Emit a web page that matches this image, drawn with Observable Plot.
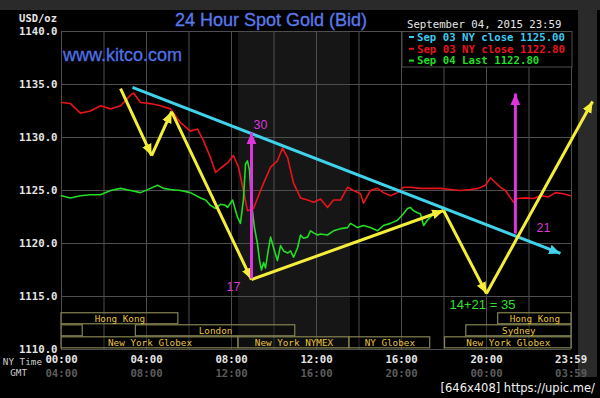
<!DOCTYPE html>
<html><head><meta charset="utf-8">
<script src="https://cdn.jsdelivr.net/npm/d3@7"></script>
<script src="https://cdn.jsdelivr.net/npm/@observablehq/plot@0.6"></script>
<style>
html,body{margin:0;padding:0;background:#000;}
#chart{width:600px;height:398px;overflow:hidden;position:relative;}
</style></head><body><div id="chart"></div>
<script>
// ---- data (hours NY time, USD/oz) ----
const redHours = [0,0.42,0.89,1.36,1.84,2.31,2.78,3.25,3.39,3.72,4.19,4.66,5.13,5.6,6.07,6.4,6.68,7.01,7.25,7.48,7.81,8.09,8.33,8.56,8.75,9.04,9.27,9.51,9.84,10.16,10.4,10.64,10.92,11.25,11.58,11.86,12.19,12.52,12.8,13.13,13.46,13.74,14.07,14.21,14.54,14.87,15.15,15.48,15.81,16.09,16.42,16.89,17.36,17.84,18.31,18.78,19.25,19.62,19.95,20.19,20.42,20.66,20.89,21.13,21.27,21.46,21.84,22.21,22.54,22.92,23.25,23.62,23.95];
const redPrices = [1133.3,1133.2,1132.3,1132.5,1133.0,1132.7,1133.0,1134.0,1134.2,1133.3,1133.2,1133.0,1132.7,1131.4,1130.6,1130.8,1129.7,1128.1,1126.7,1127.1,1127.6,1128.3,1127.2,1125.0,1123.1,1123.3,1124.5,1125.7,1127.2,1127.8,1129.0,1128.1,1125.7,1124.3,1124.1,1123.9,1124.2,1123.4,1124.1,1124.1,1125.3,1125.0,1124.7,1123.8,1125.0,1125.2,1124.8,1124.5,1124.8,1125.3,1125.3,1125.2,1125.2,1125.2,1125.1,1125.0,1125.1,1125.2,1125.5,1126.2,1125.75,1125.3,1125.0,1124.3,1123.9,1124.25,1124.3,1124.25,1124.5,1124.4,1124.8,1124.7,1124.5];
const greenHours = [0,0.42,0.89,1.36,1.84,2.31,2.78,3.25,3.72,4.19,4.52,4.8,5.13,5.6,6.07,6.54,6.78,7.01,7.25,7.48,7.72,7.81,8.05,8.28,8.42,8.56,8.66,8.75,8.85,8.94,9.08,9.22,9.32,9.41,9.51,9.6,9.74,9.84,9.98,10.16,10.31,10.45,10.64,10.78,10.92,11.11,11.25,11.39,11.58,11.72,11.86,12.05,12.19,12.52,12.8,13.13,13.46,13.6,13.93,14.21,14.54,14.87,15.15,15.48,15.81,16.09,16.28,16.42,16.56,16.75,16.89,17.04,17.22,17.51];
const greenPrices = [1124.5,1124.3,1124.5,1124.6,1124.6,1125.0,1125.2,1125.0,1124.8,1125.2,1125.5,1125.2,1125.1,1125.0,1124.8,1124.3,1124.1,1123.6,1123.3,1123.7,1123.6,1123.4,1124.1,1122.5,1121.9,1124.1,1127.5,1127.8,1126.9,1123.8,1121.5,1120.0,1118.4,1117.5,1118.2,1117.7,1119.5,1120.6,1119.6,1118.4,1119.8,1119.3,1119.1,1119.3,1118.7,1119.6,1120.8,1120.5,1120.6,1121.2,1121.0,1120.8,1120.9,1120.8,1121.2,1121.4,1121.5,1121.9,1121.5,1121.7,1121.5,1121.2,1121.7,1121.9,1122.2,1122.8,1123.3,1123.4,1123.1,1122.9,1122.8,1121.7,1122.2,1122.8];

const yTicks = [1110,1115,1120,1125,1130,1135,1140];
const gridHours = [0,2,4,6,8,10,12,14,16,18,20,22,24];
const xTicks = [0,4,8,12,16,20,23.983];
const nyLabels = ["00:00","04:00","08:00","12:00","16:00","20:00","23:59"];
const gmtLabels = ["04:00","08:00","12:00","16:00","20:00","00:00","03:59"];

const sessionNames = ["Hong Kong","","London","New York Globex","New York NYMEX","NY Globex","New York Globex","Sydney","Hong Kong"];
const sessionStart = [0,0,3.5,0,8.33,13.55,18.05,19.05,20.55];
const sessionEnd   = [5.5,1.0,11.0,8.33,13.55,17.35,24,24,24];
const sessionRow   = [0,1,1,2,2,2,2,1,0];

const nyShadeStart = [8.33];
const nyShadeEnd = [13.6];

const legendLabels = ["Sep 03 NY close 1125.00","Sep 03 NY close 1122.80","Sep 04 Last 1122.80"];
const legendColors = ["#3fc8f0","#e8141a","#22dd22"];

const yellowHours  = [2.78,4.24,5.18,8.94,17.98,20.0,24.99];
const yellowPrices = [1134.62,1128.3,1132.45,1116.6,1123.11,1115.28,1133.4];
const cyanHours  = [3.34,23.48];
const cyanPrices = [1134.72,1119.06];
const magentaHours = [8.94,21.36];
const magentaFrom  = [1116.7,1120.94];
const magentaTo    = [1130.47,1134.15];
const noteTexts  = ["30","17","21","14+21 = 35"];
const noteHours  = [9.36,8.09,22.68,19.81];
const notePrices = [1131.2,1115.85,1121.42,1114.25];
const noteColors = ["#d63ad6","#d63ad6","#d63ad6","#2ee02e"];

// ---- build tables ----
const red = redHours.map((h,i)=>({h, p: redPrices[i]}));
const green = greenHours.map((h,i)=>({h, p: greenPrices[i]}));
const yellowSegs = yellowHours.slice(1).map((h,i)=>({x1: yellowHours[i], y1: yellowPrices[i], x2: h, y2: yellowPrices[i+1]}));
const cyanSegs = [{x1: cyanHours[0], y1: cyanPrices[0], x2: cyanHours[1], y2: cyanPrices[1]}];
const magentaSegs = magentaHours.map((h,i)=>({x1:h, y1: magentaFrom[i], x2:h, y2: magentaTo[i]}));
const notes = noteTexts.map((t,i)=>({t, h: noteHours[i], p: notePrices[i], c: noteColors[i]}));
const rowTop = r => 1113.42 - r*1.135;
const sessions = sessionNames.map((n,i)=>({n, a: sessionStart[i], b: sessionEnd[i], top: rowTop(sessionRow[i]), bot: rowTop(sessionRow[i]) - 1.04}));
const shade = nyShadeStart.map((a,i)=>({a, b: nyShadeEnd[i]}));

function headMarker(color, context) {
  const doc = (context && context.document) || document;
  const m = doc.createElementNS("http://www.w3.org/2000/svg","marker");
  m.setAttribute("viewBox","-10 -5 10 10");
  m.setAttribute("markerWidth","3.8");
  m.setAttribute("markerHeight","3.8");
  m.setAttribute("orient","auto");
  m.setAttribute("fill", color);
  m.setAttribute("stroke","none");
  const p = doc.createElementNS("http://www.w3.org/2000/svg","path");
  p.setAttribute("d","M-10,-4.3L0,0L-10,4.3Z");
  m.appendChild(p);
  return m;
}

const mono = "DejaVu Sans Mono";
const plot = Plot.plot({
  width: 600, height: 398,
  marginLeft: 61, marginRight: 29, marginTop: 31, marginBottom: 49,
  x: {domain: [0,24], axis: null},
  y: {domain: [1110,1140], axis: null},
  style: {background: "#000", color: "#ddd", fontFamily: mono, fontSize: "10.7px", overflow: "visible"},
  marks: [
    Plot.rect(shade, {x1: "a", x2: "b", y1: 1110, y2: 1140, fill: "#161616"}),
    Plot.gridX({ticks: gridHours, stroke: "#4e4e4e", strokeOpacity: 1}),
    Plot.gridY({ticks: yTicks, stroke: "#4e4e4e", strokeOpacity: 1}),
    Plot.axisY({ticks: yTicks, tickFormat: d => d.toFixed(1), tickSize: 0, tickPadding: 4, fill: "#e6e6e6", fontWeight: "bold", fontSize: 10.7, label: null}),
    Plot.axisX({ticks: xTicks, tickFormat: (d,i) => nyLabels[i], tickSize: 0, tickPadding: 6, fill: "#e6e6e6", fontWeight: "bold", fontSize: 10.7, label: null}),
    Plot.axisX({ticks: xTicks, tickFormat: (d,i) => gmtLabels[i], tickSize: 0, tickPadding: 20, fill: "#5c5c5c", fontWeight: "bold", fontSize: 10.7, label: null}),
    Plot.rect(sessions, {x1: "a", x2: "b", y1: "bot", y2: "top", fill: "#000", fillOpacity: 0.35, stroke: "#858350", strokeWidth: 1.2}),
    Plot.text(sessions, {x: d => (d.a + d.b)/2, y: d => (d.top + d.bot)/2, text: "n", fill: "#e6c23c", fontSize: 9.3, fontFamily: mono}),
    Plot.line(red, {x: "h", y: "p", stroke: "#e8141a", strokeWidth: 1.6}),
    Plot.line(green, {x: "h", y: "p", stroke: "#22dd22", strokeWidth: 1.6}),
    Plot.link(cyanSegs, {x1: "x1", y1: "y1", x2: "x2", y2: "y2", stroke: "#3fd2ea", strokeWidth: 3, markerEnd: headMarker}),
    Plot.link(yellowSegs, {x1: "x1", y1: "y1", x2: "x2", y2: "y2", stroke: "#f4ee3a", strokeWidth: 3, markerEnd: headMarker}),
    Plot.link(magentaSegs, {x1: "x1", y1: "y1", x2: "x2", y2: "y2", stroke: "#de34de", strokeWidth: 3, markerEnd: headMarker}),
    Plot.text(notes, {x: "h", y: "p", text: "t", fill: "c", fontSize: d => d.t.length > 3 ? 13 : 12.5, fontWeight: d => d.t.length > 3 ? "normal" : "bold", fontFamily: "Liberation Sans"})
  ]
});

const svg = d3.select(plot);
// frame bands, behind all marks
const bg = svg.insert("g", ":first-child");
bg.append("rect").attr("x",0).attr("y",0).attr("width",600).attr("height",398).attr("fill","#000");
bg.append("rect").attr("x",0).attr("y",0).attr("width",600).attr("height",10).attr("fill","#2a2a2a");
bg.append("rect").attr("x",578).attr("y",10).attr("width",19).attr("height",367).attr("fill","#2a2a2a");

const txt = (x, y, s) => svg.append("text").attr("x", x).attr("y", y).attr("text-anchor", "start").text(s);
// title etc.
txt(175, 26, "24 Hour Spot Gold (Bid)").attr("font-family","Liberation Sans").attr("font-size",18).attr("fill","#5a78e8").attr("stroke","#5a78e8").attr("stroke-width",0.35);
txt(63, 61, "www.kitco.com").attr("font-family","Liberation Sans").attr("font-size",18).attr("fill","#4f72e6").attr("stroke","#4f72e6").attr("stroke-width",0.3);
txt(57, 22, "USD/oz").attr("text-anchor","end").attr("font-family",mono).attr("font-weight","bold").attr("font-size",10.5).attr("fill","#e6e6e6");
txt(407, 28, "September 04, 2015 23:59").attr("font-family",mono).attr("font-size",10.7).attr("fill","#e6e6e6");
// legend
svg.append("rect").attr("x",402).attr("y",31.5).attr("width",170).attr("height",35.5).attr("fill","#000").attr("stroke","#4e4e4e");
legendLabels.forEach((t,i) => {
  const y = 37 + i*11.8;
  svg.append("line").attr("x1",409).attr("x2",414).attr("y1",y).attr("y2",y).attr("stroke",legendColors[i]).attr("stroke-width",2);
  txt(417, y+3.8, t).attr("font-family",mono).attr("font-weight","bold").attr("font-size",10.7).attr("fill",legendColors[i]);
});
// axis row titles
txt(42, 364.5, "NY Time").attr("text-anchor","end").attr("font-family",mono).attr("font-size",9.3).attr("fill","#cfcfcf");
txt(27, 375.5, "GMT").attr("text-anchor","end").attr("font-family",mono).attr("font-size",9.3).attr("fill","#cfcfcf");
// bottom caption
txt(595, 392, "[646x408] https://upic.me/").attr("text-anchor","end").attr("font-family","DejaVu Sans").attr("font-size",11.5).attr("fill","#f2f2f2");

document.getElementById("chart").appendChild(plot);
</script>
</body></html>
